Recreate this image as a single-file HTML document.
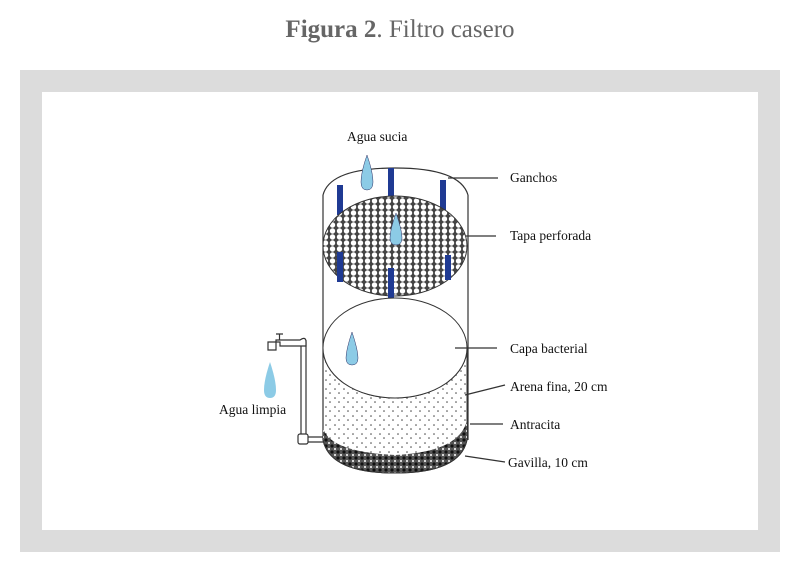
<!DOCTYPE html>
<html><head><meta charset="utf-8"><style>
body{margin:0;width:800px;height:568px;background:#fff;overflow:hidden;font-family:"Liberation Serif",serif}
.t{position:absolute;top:16px;width:800px;text-align:center;font-size:25px;color:#666}
.f{position:absolute;left:20px;top:70px;width:760px;height:482px;background:#dcdcdc}
.in{position:absolute;left:22px;top:22px;width:716px;height:438px;background:#fff}
</style></head><body>
<div class="t"><b>Figura 2</b>. Filtro casero</div>
<div class="f"><div class="in"></div></div>
<svg style="position:absolute;left:0;top:0" width="800" height="568" font-family="Liberation Serif,serif" font-size="13.5">
<defs>
<pattern id="hex" width="7" height="6" patternUnits="userSpaceOnUse"><rect width="7" height="6" fill="#444"/><circle cx="3.5" cy="3" r="2.7" fill="#fff"/></pattern>
<pattern id="sand" width="9" height="9" patternUnits="userSpaceOnUse"><circle cx="2" cy="2" r=".8" fill="#444"/><circle cx="6" cy="6" r=".8" fill="#444"/></pattern>
<pattern id="grav" width="6" height="6" patternUnits="userSpaceOnUse"><rect width="6" height="6" fill="#555"/><circle cx="2" cy="2" r="1.6" fill="#111"/><circle cx="5" cy="5" r="1" fill="#fff"/></pattern>
</defs>
<g stroke="#333" stroke-width="1.2" fill="none">
<path d="M323,195 Q330,168 395,168 Q460,168 468,195"/>
<line x1="323" y1="195" x2="323" y2="440"/><line x1="468" y1="195" x2="468" y2="440"/>
</g>
<path d="M323,348 A72,50 0 0 0 467,348 L467,440 Q460,473 395,473 Q330,473 323,440 Z" fill="url(#sand)" stroke="#333"/>
<path d="M323,428 Q330,452 395,455 Q460,452 467,420 L467,440 Q460,473 395,473 Q330,473 323,440 Z" fill="url(#grav)"/>
<path d="M323,440 Q330,473 395,473 Q460,473 467,440" fill="none" stroke="#333"/>
<g fill="#1f3a93">
<rect x="337" y="185" width="6" height="30"/><rect x="388" y="168" width="6" height="35"/><rect x="440" y="180" width="6" height="30"/>
</g>
<ellipse cx="395" cy="246" rx="72" ry="50" fill="url(#hex)" stroke="#333"/>
<g fill="#1f3a93"><rect x="337" y="252" width="6" height="30"/><rect x="388" y="268" width="6" height="30"/><rect x="445" y="255" width="6" height="25"/></g>
<ellipse cx="395" cy="348" rx="72" ry="50" fill="#fff" stroke="#333"/>
<g fill="#8ccbe6" stroke="#336" stroke-width=".5">
<path d="M367,155 Q373,172 373,182 Q373,190 367,190 Q361,190 361,182 Q361,172 367,155Z"/>
<path d="M396,213 Q402,230 402,238 Q402,245 396,245 Q390,245 390,238 Q390,230 396,213Z"/>
<path d="M352,332 Q358,350 358,358 Q358,365 352,365 Q346,365 346,358 Q346,350 352,332Z"/>
<path d="M270,362 Q276,380 276,390 Q276,398 270,398 Q264,398 264,390 Q264,380 270,362Z" stroke="none"/>
</g>
<g stroke="#333" fill="#fff" stroke-width="1.2">
<path d="M301,340 L301,436 M306,340 L306,436" fill="none"/>
<path d="M268,342 L268,350 L276,350 L276,340 L300,340 Q306,336 306,342 L306,346 L280,346 L280,342 Z"/>
<path d="M276,334 L283,334 M279.5,334 L279.5,340" fill="none"/>
<rect x="298" y="434" width="10" height="10" rx="2"/>
<path d="M308,437 L323,437 M308,442 L323,442" fill="none"/>
</g>
<g stroke="#333" stroke-width="1.2">
<line x1="448" y1="178" x2="498" y2="178"/><line x1="466" y1="236" x2="496" y2="236"/>
<line x1="455" y1="348" x2="497" y2="348"/><line x1="465" y1="395" x2="505" y2="385"/>
<line x1="470" y1="424" x2="503" y2="424"/><line x1="465" y1="456" x2="505" y2="462"/>
</g>
<g fill="#111">
<text x="347" y="141">Agua sucia</text><text x="510" y="182">Ganchos</text>
<text x="510" y="240">Tapa perforada</text><text x="510" y="353">Capa bacterial</text>
<text x="510" y="391">Arena fina, 20 cm</text><text x="510" y="429">Antracita</text>
<text x="508" y="467">Gavilla, 10 cm</text><text x="219" y="414">Agua limpia</text>
</g>
</svg>
</body></html>
